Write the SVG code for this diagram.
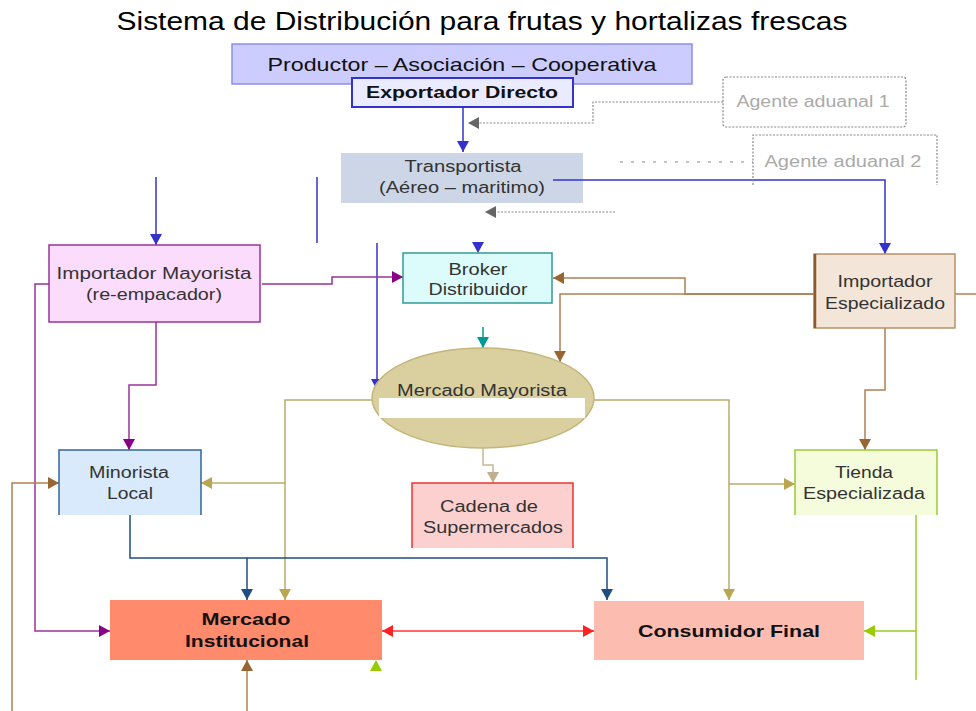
<svg xmlns="http://www.w3.org/2000/svg" width="976" height="711" viewBox="0 0 976 711">
<style>
text{font-family:"Liberation Sans",Arial,sans-serif;text-anchor:middle}
.t{font-size:16px;fill:#333}
.b{font-size:17px;font-weight:bold;fill:#111}
.ag{font-size:16px;fill:#aaa}
.c{fill:none;stroke-width:1.5}
</style>
<defs>
<marker id="aBlue" markerUnits="userSpaceOnUse" markerWidth="12" markerHeight="12" refX="11" refY="6" orient="auto"><path d="M0,0 L11,6 L0,12 z" fill="#3333cc"/></marker>
<marker id="aPur" markerUnits="userSpaceOnUse" markerWidth="12" markerHeight="12" refX="11" refY="6" orient="auto"><path d="M0,0 L11,6 L0,12 z" fill="#880088"/></marker>
<marker id="aBrn" markerUnits="userSpaceOnUse" markerWidth="12" markerHeight="12" refX="11" refY="6" orient="auto"><path d="M0,0 L11,6 L0,12 z" fill="#996633"/></marker>
<marker id="aTan" markerUnits="userSpaceOnUse" markerWidth="12" markerHeight="12" refX="11" refY="6" orient="auto"><path d="M0,0 L11,6 L0,12 z" fill="#b8a650"/></marker>
<marker id="aNavy" markerUnits="userSpaceOnUse" markerWidth="12" markerHeight="12" refX="11" refY="6" orient="auto"><path d="M0,0 L11,6 L0,12 z" fill="#1f4e80"/></marker>
<marker id="aRed" markerUnits="userSpaceOnUse" markerWidth="12" markerHeight="12" refX="11" refY="6" orient="auto-start-reverse"><path d="M0,0 L11,6 L0,12 z" fill="#ff2222"/></marker>
<marker id="aLime" markerUnits="userSpaceOnUse" markerWidth="12" markerHeight="12" refX="11" refY="6" orient="auto"><path d="M0,0 L11,6 L0,12 z" fill="#99cc00"/></marker>
<marker id="aTeal" markerUnits="userSpaceOnUse" markerWidth="12" markerHeight="12" refX="11" refY="6" orient="auto"><path d="M0,0 L11,6 L0,12 z" fill="#009999"/></marker>
<marker id="aGrayTan" markerUnits="userSpaceOnUse" markerWidth="12" markerHeight="12" refX="11" refY="6" orient="auto"><path d="M0,0 L11,6 L0,12 z" fill="#bfb090"/></marker>
<marker id="aGray" markerUnits="userSpaceOnUse" markerWidth="12" markerHeight="12" refX="11" refY="6" orient="auto"><path d="M0,0 L11,6 L0,12 z" fill="#666"/></marker>
</defs>
<rect width="976" height="711" fill="#fff"/>
<text x="482" y="30" style="font-size:25px;fill:#000" textLength="731" lengthAdjust="spacingAndGlyphs">Sistema de Distribución para frutas y hortalizas frescas</text>

<g id="connectors">
<path class="c" stroke="#3333cc" d="M463,107 V152" marker-end="url(#aBlue)"/>
<path class="c" stroke="#3333cc" d="M553,180 H885 V254" marker-end="url(#aBlue)"/>
<path class="c" stroke="#3333cc" d="M156,177 V245" marker-end="url(#aBlue)"/>
<path class="c" stroke="#3333cc" d="M317,177 V243"/>
<path class="c" stroke="#3333cc" d="M377,243 V390" marker-end="url(#aBlue)"/>
<path class="c" stroke="#3333cc" stroke-opacity="0" d="M478,243 V253" marker-end="url(#aBlue)"/>
<path class="c" stroke="#993399" d="M262,284 H332 V277 H403" marker-end="url(#aPur)"/>
<path class="c" stroke="#993399" d="M156,322 V385 H129 V450" marker-end="url(#aPur)"/>
<path class="c" stroke="#993399" d="M49,284 H35 V631 H110" marker-end="url(#aPur)"/>
<path class="c" stroke="#b08050" d="M814,294 H685 V278 H553" marker-end="url(#aBrn)"/>
<path class="c" stroke="#b08050" d="M814,294 H560 V362" marker-end="url(#aBrn)"/>
<path class="c" stroke="#b08050" d="M955,294 H976"/>
<path class="c" stroke="#b08050" d="M885,328 V390 H865 V450" marker-end="url(#aBrn)"/>
<path class="c" stroke="#b08050" d="M12,711 V483 H59" marker-end="url(#aBrn)"/>
<path class="c" stroke="#b08050" d="M247,711 V660" marker-end="url(#aBrn)"/>
<path class="c" stroke="#bbab68" d="M372,400 H285 V600" marker-end="url(#aTan)"/>
<path class="c" stroke="#bbab68" d="M285,483 H201" marker-end="url(#aTan)"/>
<path class="c" stroke="#bbab68" d="M594,400 H729 V600" marker-end="url(#aTan)"/>
<path class="c" stroke="#bbab68" d="M729,484 H795" marker-end="url(#aTan)"/>
<path class="c" stroke="#1f4e80" d="M130,515 V558 H607 V600" marker-end="url(#aNavy)"/>
<path class="c" stroke="#1f4e80" d="M247,558 V600" marker-end="url(#aNavy)"/>
<path class="c" stroke="#ff3333" d="M382,631 H594" marker-start="url(#aRed)" marker-end="url(#aRed)"/>
<path class="c" stroke="#99cc22" d="M916,515 V680"/>
<path class="c" stroke="#99cc22" d="M916,631 H864" marker-end="url(#aLime)"/>
<path class="c" stroke="#99cc22" stroke-opacity="0" d="M376,670 V660" marker-end="url(#aLime)"/>
<path class="c" stroke="#009999" d="M483,327 V348" marker-end="url(#aTeal)"/>
<path class="c" stroke="#c4b898" d="M483,448 V465 H493 V483" marker-end="url(#aGrayTan)"/>
<path fill="none" stroke="#888" stroke-width="1.2" stroke-dasharray="2,1.5" d="M723,102 H593 V123 H468" marker-end="url(#aGray)"/>
<path fill="none" stroke="#888" stroke-width="1.2" stroke-dasharray="3,8" d="M620,162 H753"/>
<path fill="none" stroke="#888" stroke-width="1.2" stroke-dasharray="2,1.5" d="M615,212 H485" marker-end="url(#aGray)"/>
</g>

<g id="productor">
<rect x="232" y="44" width="460" height="40" fill="#ccccff" stroke="#8c8cf0" stroke-width="1.5"/>
<text x="462" y="71" style="font-size:19px;fill:#111" textLength="389" lengthAdjust="spacingAndGlyphs">Productor – Asociación – Cooperativa</text>
</g>
<g id="exportador">
<rect x="352" y="78" width="221" height="29" fill="#ebebff" stroke="#3333cc" stroke-width="2"/>
<text class="b" x="462" y="98" textLength="192" lengthAdjust="spacingAndGlyphs">Exportador Directo</text>
</g>
<g id="agente1">
<rect x="723" y="77" width="183" height="50" rx="3" fill="none" stroke="#888" stroke-width="1.2" stroke-dasharray="2,1.5"/>
<text class="ag" x="813" y="107" textLength="153" lengthAdjust="spacingAndGlyphs">Agente aduanal 1</text>
</g>
<g id="agente2">
<path d="M753,185 V135 H937 V185" fill="none" stroke="#888" stroke-width="1.2" stroke-dasharray="2,1.5"/>
<text class="ag" x="843" y="167" textLength="157" lengthAdjust="spacingAndGlyphs">Agente aduanal 2</text>
</g>
<g id="transportista">
<rect x="341" y="153" width="242" height="50" fill="#cdd6e6"/>
<text class="t" x="463" y="172" textLength="117" lengthAdjust="spacingAndGlyphs">Transportista</text>
<text class="t" x="462" y="193" textLength="166" lengthAdjust="spacingAndGlyphs">(Aéreo – maritimo)</text>
<path d="M553,180 H583" stroke="#3333cc" stroke-width="1.5"/>
</g>
<g id="importadorMayorista">
<rect x="49" y="245" width="211" height="77" fill="#fcdcfc" stroke="#993399" stroke-width="1.5"/>
<text class="t" x="154" y="279" textLength="195" lengthAdjust="spacingAndGlyphs">Importador Mayorista</text>
<text class="t" x="154" y="300" textLength="136" lengthAdjust="spacingAndGlyphs">(re-empacador)</text>
</g>
<g id="broker">
<rect x="403" y="253" width="149" height="50" fill="#dcfcfc" stroke="#339999" stroke-width="1.5"/>
<text class="t" x="478" y="275" textLength="59" lengthAdjust="spacingAndGlyphs">Broker</text>
<text class="t" x="478" y="295" textLength="99" lengthAdjust="spacingAndGlyphs">Distribuidor</text>
</g>
<g id="importadorEspecializado">
<rect x="814" y="254" width="141" height="74" fill="#f3e5d8" stroke="#b89068" stroke-width="1.5"/>
<path d="M815,254 V328" stroke="#8c5a2c" stroke-width="2.5"/>
<text class="t" x="885" y="287" textLength="95" lengthAdjust="spacingAndGlyphs">Importador</text>
<text class="t" x="885" y="309" textLength="120" lengthAdjust="spacingAndGlyphs">Especializado</text>
</g>
<g id="mercadoMayorista">
<ellipse cx="483" cy="398" rx="111" ry="50" fill="#d9cf9f" stroke="#c4b67a" stroke-width="1.5"/>
<rect x="379" y="398" width="206" height="20" fill="#fff"/>
<text class="t" x="482" y="396" textLength="170" lengthAdjust="spacingAndGlyphs">Mercado Mayorista</text>
</g>
<g id="minorista">
<rect x="59" y="450" width="142" height="65" fill="#d8eafc"/>
<path d="M59,515 V450 H201 V515" fill="none" stroke="#336699" stroke-width="1.5"/>
<text class="t" x="129" y="478" textLength="80" lengthAdjust="spacingAndGlyphs">Minorista</text>
<text class="t" x="130" y="499" textLength="46" lengthAdjust="spacingAndGlyphs">Local</text>
</g>
<g id="cadena">
<rect x="412" y="483" width="161" height="65" fill="#fdd0d0"/>
<path d="M412,548 V483 H573 V548" fill="none" stroke="#ee3333" stroke-width="1.5"/>
<text class="t" x="489" y="512" textLength="98" lengthAdjust="spacingAndGlyphs">Cadena de</text>
<text class="t" x="493" y="533" textLength="140" lengthAdjust="spacingAndGlyphs">Supermercados</text>
</g>
<g id="tienda">
<rect x="795" y="450" width="142" height="65" fill="#f4fcdc"/>
<path d="M795,515 V450 H937 V515" fill="none" stroke="#99cc33" stroke-width="1.5"/>
<text class="t" x="864" y="478" textLength="58" lengthAdjust="spacingAndGlyphs">Tienda</text>
<text class="t" x="864" y="499" textLength="122" lengthAdjust="spacingAndGlyphs">Especializada</text>
</g>
<g id="mercadoInstitucional">
<rect x="110" y="600" width="272" height="60" fill="#ff8a6c"/>
<text class="b" x="246" y="625" textLength="89" lengthAdjust="spacingAndGlyphs">Mercado</text>
<text class="b" x="247" y="647" textLength="124" lengthAdjust="spacingAndGlyphs">Institucional</text>
</g>
<g id="consumidor">
<rect x="594" y="601" width="270" height="59" fill="#fcbcb0"/>
<text class="b" x="729" y="637" textLength="182" lengthAdjust="spacingAndGlyphs">Consumidor Final</text>
</g>
</svg>
